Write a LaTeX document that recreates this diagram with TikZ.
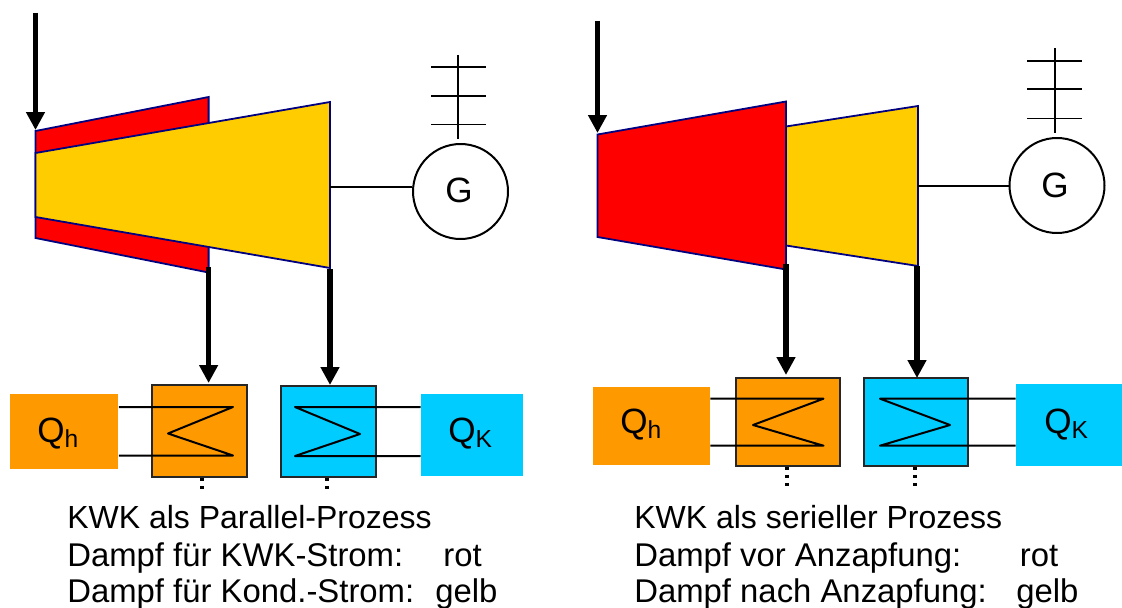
\documentclass[tikz,border=0pt]{standalone}
\usepackage{fontspec}
\setmainfont{Liberation Sans}
\usetikzlibrary{arrows.meta}
\definecolor{dampfrot}{HTML}{FF0000}
\definecolor{dampfgelb}{HTML}{FFCC00}
\definecolor{heizorange}{HTML}{FF9900}
\definecolor{kondblau}{HTML}{00CCFF}
\definecolor{randblau}{HTML}{000080}
\tikzset{
  stage/.style={draw=randblau, line width=0.036cm},
  flow/.style={line width=0.115cm, -{Triangle[length=0.36cm,width=0.36cm]}},
  wire/.style={line width=0.04cm, line join=round},
  hx/.style={draw=black!85, line width=0.04cm, inner sep=0pt, minimum width=1.9cm, minimum height=1.84cm},
  heat/.style={inner sep=0pt, font=\fontsize{20pt}{24pt}\selectfont},
  gen/.style={draw, circle, line width=0.04cm, inner sep=0pt, minimum size=1.9cm},
  caption/.style={anchor=base west, inner sep=0pt, font=\fontsize{18.7pt}{22pt}\selectfont},
  title/.style={anchor=base west, inner sep=0pt, font=\fontsize{18.2pt}{22pt}\selectfont},
  tap/.style={line width=0.065cm, dash pattern=on 0.06cm off 0.1cm}
}
\begin{document}
\begin{tikzpicture}[x=0.02cm, y=-0.02cm]
	\useasboundingbox (0,0) rectangle (1122,608);
	% left: parallel
	\filldraw [stage, fill=dampfrot] (35.5,131) -- (208.6,97) -- (208.6,272.5) -- (35.5,238) -- cycle;
	\filldraw [stage, fill=dampfgelb] (35.5,153) -- (330,102) -- (330,268) -- (35.5,217) -- cycle;
	\coordinate (inL) at (35.5,13);
	\coordinate (inLtip) at (35.5,130);
	\coordinate (outLa) at (208.6,267);
	\coordinate (outLb) at (330,269);
	\coordinate (shaftL) at (330,186.5);
	\node (genL) [gen] at (460.5,191.5) {};
	\node (genLt) [heat] at (459,190) {G};
	\node (hxLa) [hx, fill=heizorange] at (199.5,431) {};
	\node (hxLb) [hx, fill=kondblau] at (328.8,431.5) {};
	\node (qhL) [heat, fill=heizorange, minimum width=2.17cm, minimum height=1.5cm] at (64.2,431.5) {};
	\node (qkL) [heat, fill=kondblau, minimum width=2.04cm, minimum height=1.64cm] at (472,435) {};
	\node (qhLt) [heat, anchor=base west] at (37,442) {Q\textsubscript{h}};
	\node (qkLt) [heat, anchor=base west] at (448,442) {Q\textsubscript{K}};
	\draw [flow] (inL) -- (inLtip);
	\draw [flow] (outLa) -- (208.6,383);
	\draw [flow] (outLb) -- (330,385);
	\draw [wire] (shaftL) -- (shaftL -| genL.west);
	\coordinate (busL) at (458,55);
	\draw [wire] (busL) -- (458,139);
	\draw [wire] (431,67) -- (485.5,67);
	\draw [wire] (431,95.7) -- (485.5,95.7);
	\draw [wire] (431,124.5) -- (485.5,124.5);
	\coordinate (coilLa) at (233,407);
	\coordinate (coilLb) at (233,455.5);
	\coordinate (coilLc) at (295,407);
	\coordinate (coilLd) at (295,456);
	\draw [wire] (qhL.east |- coilLa) -- (coilLa) -- (168,433.5) -- (coilLb) -- (qhL.east |- coilLb);
	\draw [wire] (qkL.west |- coilLc) -- (coilLc) -- (360,434) -- (coilLd) -- (qkL.west |- coilLd);
	\draw [tap] (hxLa.south -| 202,0) -- (202,490);
	\draw [tap] (hxLb.south -| 327,0) -- (327,490);
	\node (capLa) [title] at (67,528) {KWK als Parallel-Prozess};
	\node (capLb) [caption] at (67,566) {Dampf für KWK-Strom:};
	\node (capLc) [caption] at (67,602) {Dampf für Kond.-Strom:};
	\node (capLd) [caption] at (443,566) {rot};
	\node (capLe) [caption] at (435,602) {gelb};
	% right: seriell
	\filldraw [stage, fill=dampfgelb] (786,126.5) -- (918,106) -- (918,266) -- (786,245.5) -- cycle;
	\filldraw [stage, fill=dampfrot] (597.5,134.5) -- (786,101.5) -- (786,269.5) -- (597.5,237) -- cycle;
	\coordinate (inR) at (597.5,21);
	\coordinate (inRtip) at (597.5,133);
	\coordinate (outRa) at (786,264);
	\coordinate (outRb) at (917,266);
	\coordinate (shaftR) at (918,185.7);
	\node (genR) [gen] at (1057,185.5) {};
	\node (genRt) [heat] at (1055,185) {G};
	\node (hxRa) [hx, fill=heizorange, minimum width=2.08cm, minimum height=1.76cm] at (787.5,422) {};
	\node (hxRb) [hx, fill=kondblau, minimum width=2.08cm, minimum height=1.76cm] at (916,422) {};
	\node (qhR) [heat, fill=heizorange, minimum width=2.34cm, minimum height=1.56cm] at (651.5,426) {};
	\node (qkR) [heat, fill=kondblau, minimum width=2.12cm, minimum height=1.64cm] at (1069,425) {};
	\node (qhRt) [heat, anchor=base west] at (620,433) {Q\textsubscript{h}};
	\node (qkRt) [heat, anchor=base west] at (1044,433) {Q\textsubscript{K}};
	\draw [flow] (inR) -- (inRtip);
	\draw [flow] (outRa) -- (786,375);
	\draw [flow] (outRb) -- (917,378);
	\draw [wire] (shaftR) -- (shaftR -| genR.west);
	\coordinate (busR) at (1055,48.5);
	\draw [wire] (busR) -- (1055,133);
	\draw [wire] (1027,61) -- (1082,61);
	\draw [wire] (1027,89.5) -- (1082,89.5);
	\draw [wire] (1027,118.5) -- (1082,118.5);
	\coordinate (coilRa) at (823.5,398.7);
	\coordinate (coilRb) at (823.5,445.7);
	\coordinate (coilRc) at (880,398.7);
	\coordinate (coilRd) at (880,445.7);
	\draw [wire] (qhR.east |- coilRa) -- (coilRa) -- (753,425) -- (coilRb) -- (qhR.east |- coilRb);
	\draw [wire] (qkR.west |- coilRc) -- (coilRc) -- (950,425) -- (coilRd) -- (qkR.west |- coilRd);
	\draw [tap] (hxRa.south -| 787,0) -- (787,490);
	\draw [tap] (hxRb.south -| 915,0) -- (915,488);
	\node (capRa) [title] at (634,528) {KWK als serieller Prozess};
	\node (capRb) [caption] at (634,566) {Dampf vor Anzapfung:};
	\node (capRc) [caption] at (634,602) {Dampf nach Anzapfung:};
	\node (capRd) [caption] at (1019.5,566) {rot};
	\node (capRe) [caption] at (1016,602) {gelb};
\end{tikzpicture}
\end{document}
